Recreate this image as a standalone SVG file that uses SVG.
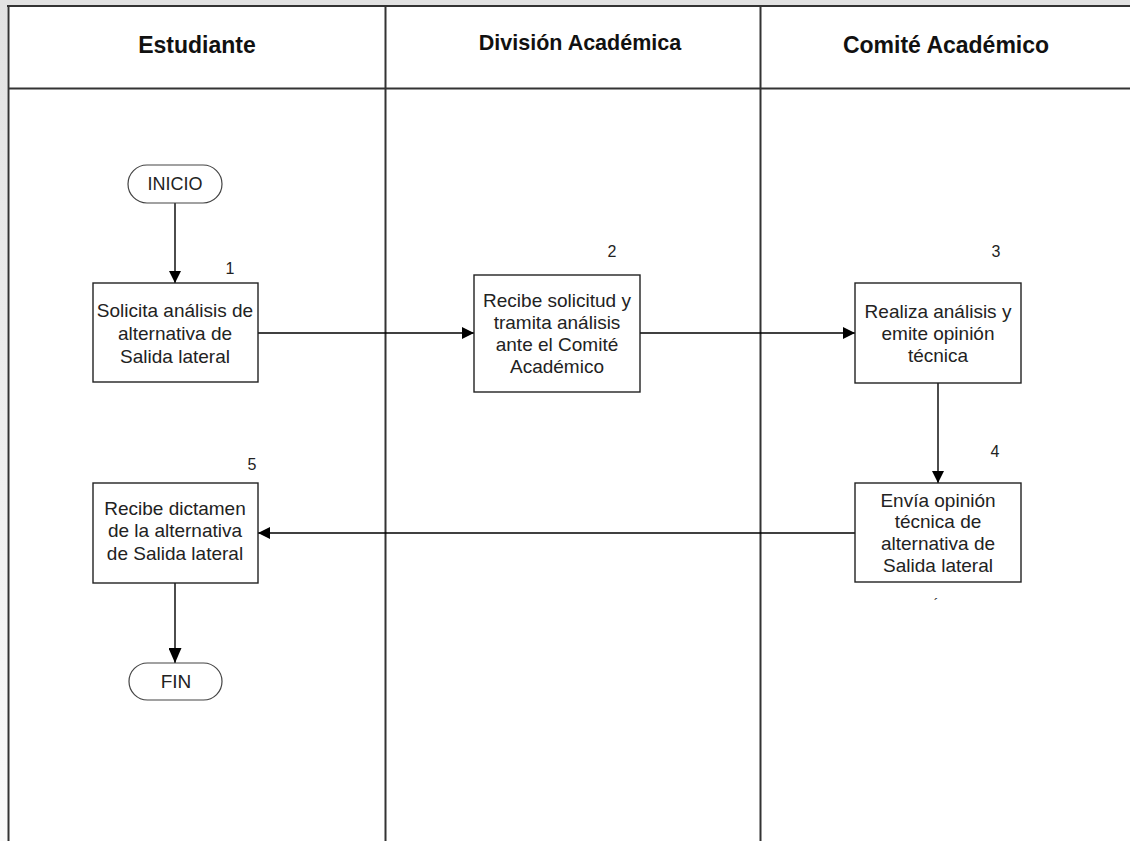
<svg xmlns="http://www.w3.org/2000/svg" width="1130" height="841" viewBox="0 0 1130 841">
<defs>
<linearGradient id="lg" x1="0" y1="0" x2="0" y2="1">
<stop offset="0" stop-color="#e2e2e2"/>
<stop offset="1" stop-color="#fafafa"/>
</linearGradient>
<marker id="ah" viewBox="0 0 12 12" refX="12" refY="6" markerWidth="12" markerHeight="12" markerUnits="userSpaceOnUse" orient="auto">
<path d="M0,0 L12,6 L0,12 z" fill="#000"/>
</marker>
<marker id="ahb" viewBox="0 0 15 13" refX="15" refY="6.5" markerWidth="15" markerHeight="13" markerUnits="userSpaceOnUse" orient="auto">
<path d="M0,0 L15,6.5 L0,13 z" fill="#000"/>
</marker>
</defs>
<style>
.lane{stroke:#333;stroke-width:2;fill:none}
.box{fill:#fff;stroke:#222;stroke-width:1.4}
.term{fill:#fff;stroke:#444;stroke-width:1.2}
.t{font-family:"Liberation Sans",Arial,sans-serif;font-size:19px;fill:#222;text-anchor:middle}
.h{font-family:"Liberation Sans",Arial,sans-serif;font-size:23px;font-weight:bold;fill:#111;text-anchor:middle}
.n{font-family:"Liberation Sans",Arial,sans-serif;font-size:16px;fill:#222;text-anchor:middle}
.c{stroke:#000;stroke-width:1.4;fill:none}
</style>
<rect x="0" y="0" width="1130" height="841" fill="#fff"/>
<rect x="0" y="0" width="1130" height="5" fill="#e2e2e2"/>
<rect x="0" y="0" width="7" height="841" fill="url(#lg)"/>
<g id="lanes">
<line class="lane" x1="7" y1="6" x2="1130" y2="6" stroke="#555"/>
<line class="lane" x1="8.5" y1="6" x2="8.5" y2="841"/>
<line class="lane" x1="385.5" y1="6" x2="385.5" y2="841"/>
<line class="lane" x1="760.5" y1="6" x2="760.5" y2="841"/>
<line class="lane" x1="8" y1="88.5" x2="1130" y2="88.5"/>
<text class="h" x="197" y="53">Estudiante</text>
<text class="h" x="580" y="50" style="font-size:21.5px">División Académica</text>
<text class="h" x="946" y="53">Comité Académico</text>
</g>
<g id="connectors">
<line class="c" x1="175" y1="203" x2="175" y2="283" marker-end="url(#ah)"/>
<line class="c" x1="258" y1="333" x2="474" y2="333" marker-end="url(#ah)"/>
<line class="c" x1="640" y1="333" x2="855" y2="333" marker-end="url(#ah)"/>
<line class="c" x1="938" y1="383" x2="938" y2="483" marker-end="url(#ah)"/>
<line class="c" x1="855" y1="533" x2="258" y2="533" marker-end="url(#ah)"/>
<line class="c" x1="175" y1="583" x2="175" y2="663" marker-end="url(#ahb)"/>
</g>
<g id="inicio">
<rect class="term" x="128" y="165" width="94" height="38" rx="19"/>
<text class="t" x="175" y="190" style="font-size:18px">INICIO</text>
</g>
<g id="n1">
<rect class="box" x="93" y="283" width="165" height="99"/>
<text class="n" x="230" y="274">1</text>
<text class="t" x="175" y="317">Solicita análisis de</text>
<text class="t" x="175" y="340">alternativa de</text>
<text class="t" x="175" y="363">Salida lateral</text>
</g>
<g id="n2">
<rect class="box" x="474" y="275" width="166" height="117"/>
<text class="n" x="612" y="257">2</text>
<text class="t" x="557" y="307">Recibe solicitud y</text>
<text class="t" x="557" y="329">tramita análisis</text>
<text class="t" x="557" y="351">ante el Comité</text>
<text class="t" x="557" y="373">Académico</text>
</g>
<g id="n3">
<rect class="box" x="855" y="283" width="166" height="100"/>
<text class="n" x="996" y="257">3</text>
<text class="t" x="938" y="318">Realiza análisis y</text>
<text class="t" x="938" y="340">emite opinión</text>
<text class="t" x="938" y="362">técnica</text>
</g>
<g id="n4">
<rect class="box" x="855" y="483" width="166" height="99"/>
<text class="n" x="995" y="457">4</text>
<text class="t" x="938" y="507">Envía opinión</text>
<text class="t" x="938" y="528">técnica de</text>
<text class="t" x="938" y="550">alternativa de</text>
<text class="t" x="938" y="572">Salida lateral</text>
<text class="t" x="936" y="609" style="font-size:14px">´</text>
</g>
<g id="n5">
<rect class="box" x="93" y="483" width="165" height="100"/>
<text class="n" x="252" y="470">5</text>
<text class="t" x="175" y="515">Recibe dictamen</text>
<text class="t" x="175" y="537">de la alternativa</text>
<text class="t" x="175" y="560">de Salida lateral</text>
</g>
<g id="fin">
<rect class="term" x="129" y="663" width="93" height="37" rx="18.5"/>
<text class="t" x="176" y="688">FIN</text>
</g>
</svg>
